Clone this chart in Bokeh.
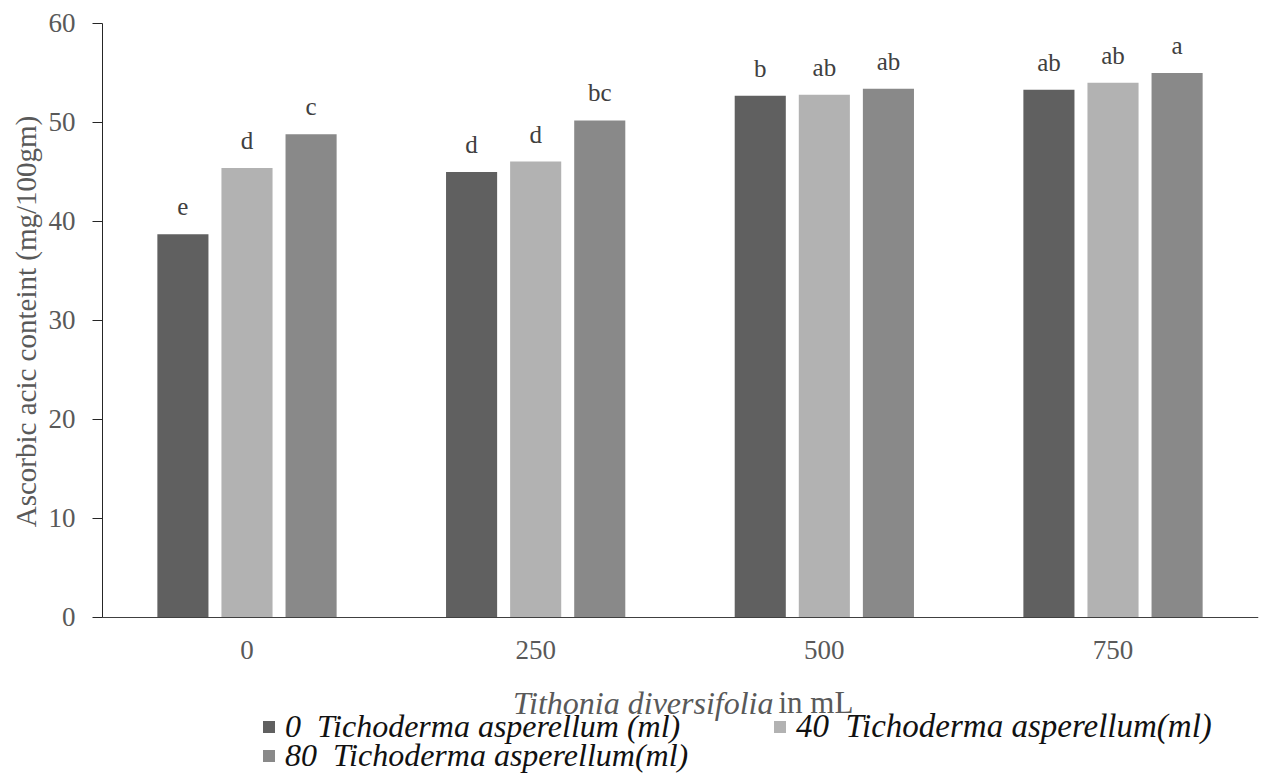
from bokeh.plotting import figure
from bokeh.models import (ColumnDataSource, Range1d, FixedTicker, LabelSet, Label,
                          Legend, LegendItem)
from bokeh.embed import file_html
from bokeh.resources import INLINE

# ---------------- data ----------------
categories = ["0", "250", "500", "750"]
series_names = ["0  Tichoderma asperellum (ml)",
                "40  Tichoderma asperellum(ml)",
                "80  Tichoderma asperellum(ml)"]
t0_values = [38.7, 45.0, 52.7, 53.3]
t40_values = [45.4, 46.05, 52.8, 54.0]
t80_values = [48.8, 50.2, 53.4, 55.0]
t0_letters = ["e", "d", "b", "ab"]
t40_letters = ["d", "d", "ab", "ab"]
t80_letters = ["c", "bc", "ab", "a"]
y_ticks = [0, 10, 20, 30, 40, 50, 60]
y_title = "Ascorbic acic conteint (mg/100gm)"

colors = ["#606060", "#b2b2b2", "#898989"]
offsets = [-0.222, 0.0, 0.222]
bar_w = 0.177
FONT = "Liberation Serif"

X_LEFT = -0.5006   # where the value axis sits (left end of the category axis)
X_RIGHT = 3.504

W, H = 1261, 776
p = figure(width=W, height=H, output_backend="svg", toolbar_location=None,
           x_range=Range1d(-0.8539, X_RIGHT), y_range=Range1d(-16.06, 62.32),
           min_border_left=0, min_border_right=3, min_border_top=0,
           min_border_bottom=0)
p.outline_line_color = None
p.grid.grid_line_color = None
p.background_fill_color = "white"
p.border_fill_color = "white"

renderers = []
for vals, lets, col, off in zip([t0_values, t40_values, t80_values],
                                [t0_letters, t40_letters, t80_letters],
                                colors, offsets):
    src = ColumnDataSource(dict(x=[i + off for i in range(len(categories))],
                                top=vals, lab=lets))
    r = p.vbar(x="x", top="top", bottom=0, width=bar_w, source=src,
               fill_color=col, line_color=None)
    renderers.append(r)
    p.add_layout(LabelSet(x="x", y="top", text="lab", source=src,
                          y_offset=19, text_align="center",
                          text_baseline="alphabetic",
                          text_font=FONT, text_font_size="25px",
                          text_color="#404040"))

# x axis (sits at y = 0)
xa = p.xaxis[0]
xa.fixed_location = 0
xa.bounds = (X_LEFT, X_RIGHT)
xa.ticker = FixedTicker(ticks=list(range(len(categories))))
xa.major_label_overrides = {i: c for i, c in enumerate(categories)}
xa.major_tick_line_color = None
xa.minor_tick_line_color = None
xa.axis_line_color = "#404040"
xa.major_label_text_font = FONT
xa.major_label_text_font_size = "27px"
xa.major_label_text_color = "#595959"
xa.major_label_standoff = 18

# y axis (sits at the left end of the category axis)
ya = p.yaxis[0]
ya.fixed_location = X_LEFT
ya.bounds = (0, 60)
ya.ticker = FixedTicker(ticks=y_ticks)
ya.minor_tick_line_color = None
ya.major_tick_in = 0
ya.major_tick_out = 10
ya.axis_line_color = "#262626"
ya.major_tick_line_color = "#262626"
ya.major_label_text_font = FONT
ya.major_label_text_font_size = "27px"
ya.major_label_text_color = "#595959"
ya.major_label_standoff = 17

# y axis title, centred on the 0-60 span (screen units from frame bottom-left)
p.add_layout(Label(x=25, y=455, x_units="screen", y_units="screen",
                   text=y_title, angle=90, angle_units="deg",
                   text_font=FONT, text_font_size="29px",
                   text_color="#595959", text_align="center",
                   text_baseline="middle"))

# x axis title (mixed italic / normal)
p.add_layout(Label(x=773, y=74, x_units="screen", y_units="screen",
                   text="Tithonia diversifolia", text_font=FONT,
                   text_font_style="italic", text_font_size="32px",
                   text_color="#595959", text_align="right",
                   text_baseline="alphabetic"))
p.add_layout(Label(x=778, y=74, x_units="screen", y_units="screen",
                   text="in mL", text_font=FONT,
                   text_font_style="normal", text_font_size="31px",
                   text_color="#595959", text_align="left",
                   text_baseline="alphabetic"))

def make_legend(item, loc, size):
    return Legend(items=[item], location=loc, orientation="vertical",
                  padding=0, margin=0, spacing=0, border_line_color=None,
                  background_fill_alpha=0, glyph_width=15, glyph_height=15,
                  label_standoff=9, label_text_font=FONT,
                  label_text_font_style="italic", label_text_font_size=size,
                  label_text_color="#111111")

p.add_layout(make_legend(LegendItem(label=series_names[0], renderers=[renderers[0]]),
                         (261, 31), "32px"))
p.add_layout(make_legend(LegendItem(label=series_names[1], renderers=[renderers[1]]),
                         (772, 31), "33px"))
p.add_layout(make_legend(LegendItem(label=series_names[2], renderers=[renderers[2]]),
                         (261, 2), "32px"))

open("out.html", "w").write(file_html(p, INLINE))
